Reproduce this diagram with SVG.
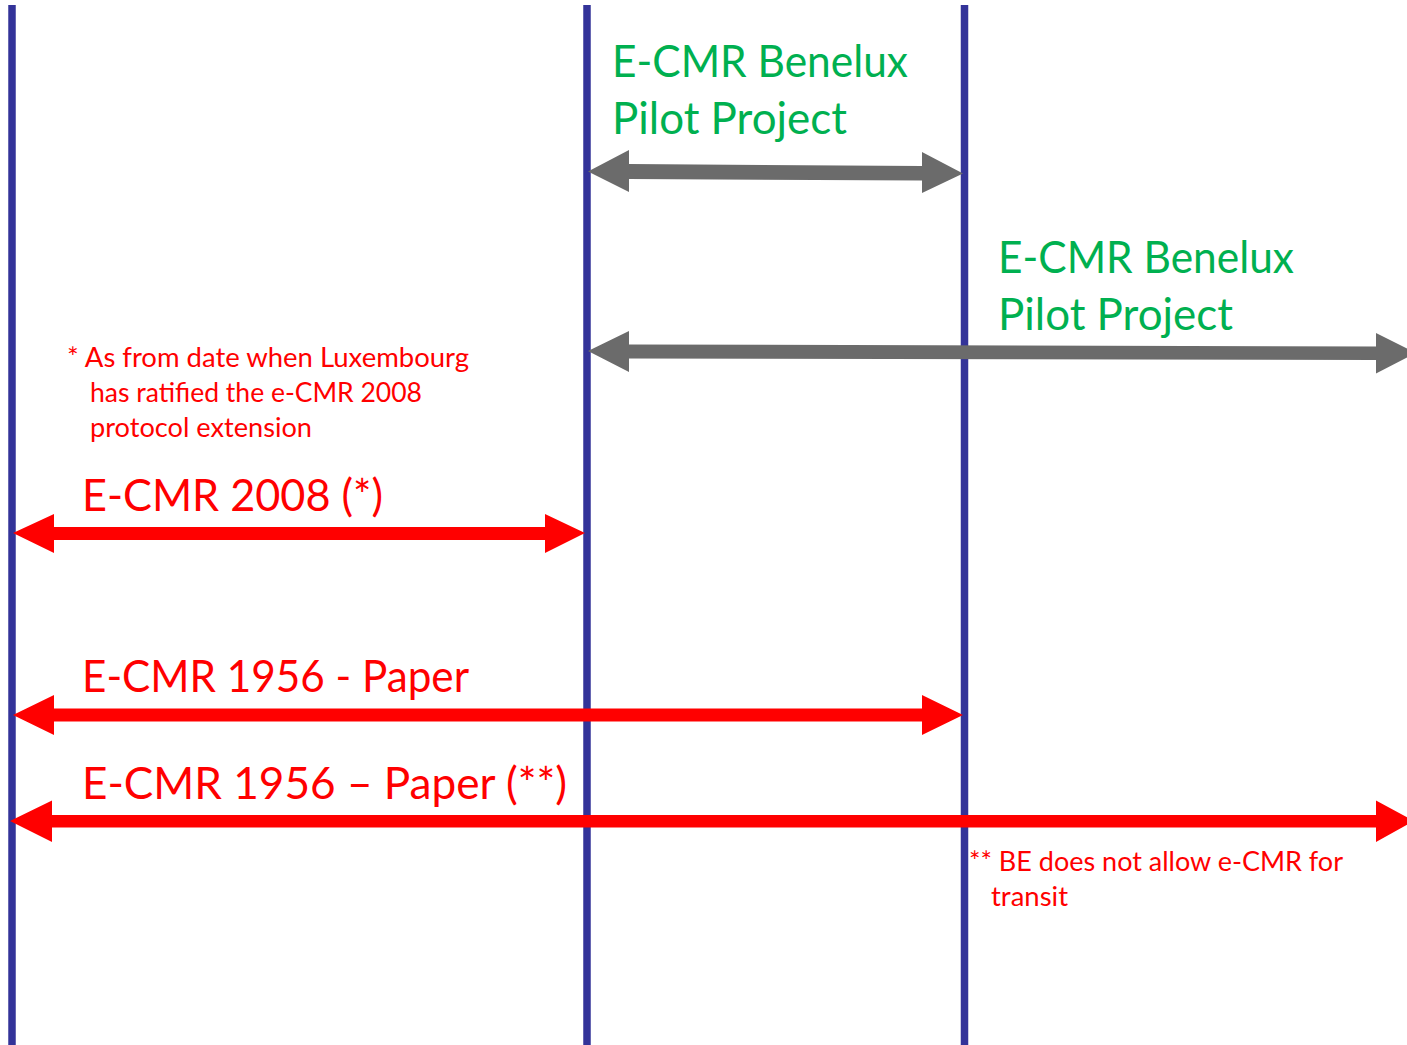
<svg xmlns="http://www.w3.org/2000/svg" width="1407" height="1045" viewBox="0 0 1407 1045">
<style>
.axis{stroke:#333399;stroke-width:7.5;fill:none}
.g{fill:#00B050;font-family:Lato,"Open Sans",sans-serif;font-size:45px}
.r{fill:#FF0000;font-family:Lato,"Open Sans",sans-serif;font-size:45px}
.rs{fill:#FF0000;font-family:Lato,"Open Sans",sans-serif;font-size:27px}
.ga{fill:#6B6B6B}
.ra{fill:#FF0000}
</style>
<rect width="1407" height="1045" fill="#FFFFFF"/>
<g id="lines">
<line id="line1" class="axis" x1="12" y1="5" x2="12" y2="1045"/>
<line id="line2" class="axis" x1="587" y1="5" x2="587" y2="1045"/>
<line id="line3" class="axis" x1="964.5" y1="5" x2="964.5" y2="1045"/>
</g>
<g id="connectors">
<polygon id="gray1" class="ga" points="588,171.5 629,150 629,164 922,166 922,152 963,173.5 922,193 922,180.5 629,179 629,192"/>
<polygon id="gray2" class="ga" points="588,351 629,331 629,344.5 1376,346.5 1376,333 1416,353 1376,373.5 1376,360 629,358.5 629,372"/>
<polygon id="red1" class="ra" points="13,533 54,514 54,527 545,527 545,514 585,533 545,553 545,540 54,540 54,553"/>
<polygon id="red2" class="ra" points="13,715 54,695 54,708.5 922,708.5 922,695 963,715 922,735 922,721.5 54,721.5 54,735"/>
<polygon id="red3" class="ra" points="10,821 52,800.5 52,815 1376,815 1376,800.5 1414,821 1376,842 1376,827.5 52,827.5 52,842"/>
</g>
<g id="label-benelux1">
<text class="g" x="612" y="77" textLength="296" lengthAdjust="spacingAndGlyphs">E-CMR Benelux</text>
<text class="g" x="612" y="134" textLength="235" lengthAdjust="spacingAndGlyphs">Pilot Project</text>
</g>
<g id="label-benelux2">
<text class="g" x="998" y="273" textLength="296" lengthAdjust="spacingAndGlyphs">E-CMR Benelux</text>
<text class="g" x="998" y="330" textLength="235" lengthAdjust="spacingAndGlyphs">Pilot Project</text>
</g>
<g id="note-lux">
<text class="rs" x="67" y="367" textLength="402" lengthAdjust="spacingAndGlyphs">* As from date when Luxembourg</text>
<text class="rs" x="90" y="402" textLength="332" lengthAdjust="spacingAndGlyphs">has ratified the e-CMR 2008</text>
<text class="rs" x="90" y="437" textLength="222" lengthAdjust="spacingAndGlyphs">protocol extension</text>
</g>
<g id="label-2008">
<text class="r" x="82" y="511" textLength="301" lengthAdjust="spacingAndGlyphs">E-CMR 2008 (*)</text>
</g>
<g id="label-1956">
<text class="r" x="82" y="692" textLength="387" lengthAdjust="spacingAndGlyphs">E-CMR 1956 - Paper</text>
</g>
<g id="label-1956b">
<text class="r" x="82" y="799" textLength="485" lengthAdjust="spacingAndGlyphs">E-CMR 1956 – Paper (**)</text>
</g>
<g id="note-be">
<text class="rs" x="969" y="871" textLength="374" lengthAdjust="spacingAndGlyphs">** BE does not allow e-CMR for</text>
<text class="rs" x="991" y="906" textLength="77" lengthAdjust="spacingAndGlyphs">transit</text>
</g>
</svg>
